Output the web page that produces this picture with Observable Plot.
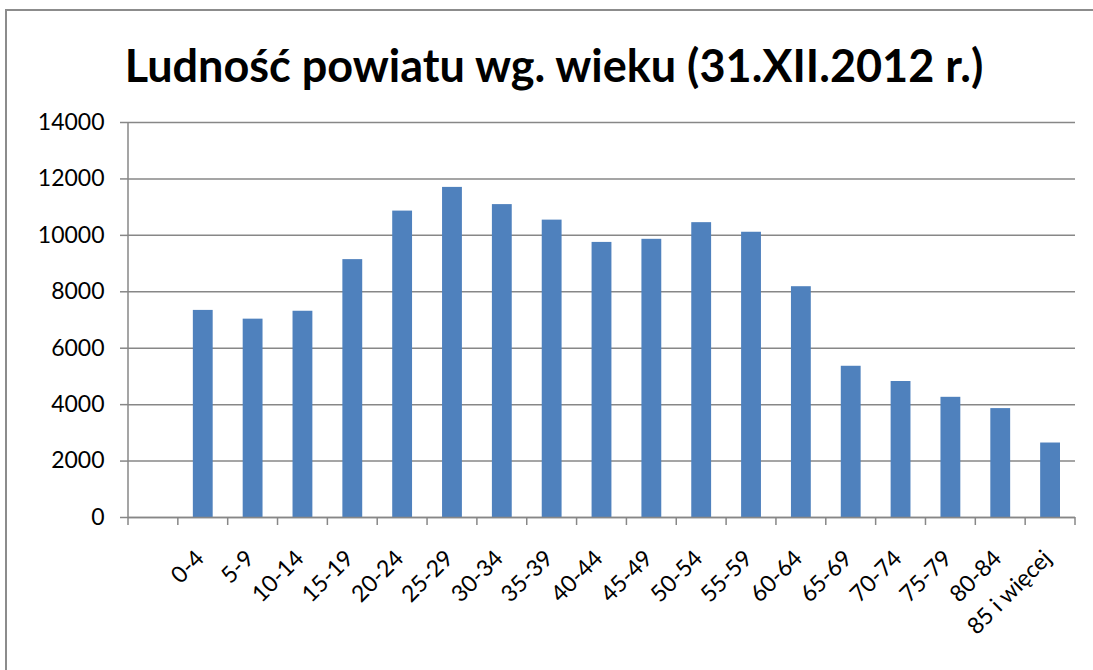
<!DOCTYPE html>
<html>
<head>
<meta charset="utf-8">
<script src="https://cdn.jsdelivr.net/npm/d3@7"></script>
<script src="https://cdn.jsdelivr.net/npm/@observablehq/plot@0.6"></script>
<style>
  html, body { margin: 0; padding: 0; background: #ffffff; }
  body { width: 1093px; height: 670px; overflow: hidden; position: relative; }
  #frame { position: absolute; left: 5px; top: 9px; width: 1300px; height: 900px;
           border-left: 2px solid #8c8c8c; border-top: 2px solid #8c8c8c; }
  #title { position: absolute; left: 0; width: 1108px; top: 43px; text-align: center;
           font-family: Lato, "Open Sans", sans-serif; font-weight: bold; font-size: 45px;
           line-height: 1; color: #000; white-space: nowrap; }
  #chart { position: absolute; left: 0; top: 100px; }
</style>
</head>
<body>
<div id="frame"></div>
<div id="title">Ludność powiatu wg. wieku (31.XII.2012 r.)</div>
<div id="chart"></div>
<script>
const ageGroups = ["0-4", "5-9", "10-14", "15-19", "20-24", "25-29", "30-34", "35-39", "40-44",
  "45-49", "50-54", "55-59", "60-64", "65-69", "70-74", "75-79", "80-84", "85 i więcej"];
const population = [7340, 7030, 7310, 9140, 10860, 11700, 11090, 10540, 9750,
  9860, 10450, 10110, 8180, 5360, 4820, 4260, 3860, 2640];
const yTicks = [0, 2000, 4000, 6000, 8000, 10000, 12000, 14000];
const blankSlot = " ";

const data = ageGroups.map((a, i) => ({age: a, pop: population[i]}));
const gray = "#878787";

function boundaryTicks(index, scales, values, dimensions) {
  const x = scales.x, y = scales.y;
  const dom = x.domain();
  const y0 = y(0), yTop = y(yTicks[yTicks.length - 1]);
  const g = d3.create("svg:g").attr("stroke", gray).attr("stroke-width", 1.5);
  const xs = dom.map(d => x(d));
  xs.push(x(dom[dom.length - 1]) + x.bandwidth());
  for (const px of xs) {
    g.append("line").attr("x1", px).attr("x2", px).attr("y1", y0).attr("y2", y0 + 8);
  }
  g.append("line").attr("x1", xs[0]).attr("x2", xs[0]).attr("y1", yTop).attr("y2", y0);
  return g.node();
}

const chart = Plot.plot({
  width: 1093,
  height: 570,
  marginLeft: 128,
  marginRight: 18,
  marginTop: 22,
  marginBottom: 153,
  style: {fontFamily: "Lato, 'Open Sans', sans-serif", fontSize: "23px", color: "#000", background: "transparent"},
  x: {domain: [blankSlot, ...ageGroups], padding: 0, round: false, label: null},
  y: {domain: [0, 14000], label: null},
  marks: [
    Plot.gridY(yTicks, {stroke: gray, strokeOpacity: 1, strokeWidth: 1.5}),
    Plot.barY(data, {x: "age", y: "pop", fill: "#4F81BD", insetLeft: 15, insetRight: 15}),
    Plot.ruleY([0], {stroke: gray, strokeWidth: 1.5}),
    Plot.axisY(yTicks, {tickSize: 8, tickPadding: 16, stroke: gray, strokeWidth: 1.5, fill: "#000",
      tickFormat: d3.format("d"), fontSize: 23, label: null}),
    Plot.axisX({tickRotate: -45, tickSize: 0, tickPadding: 37, dx: -3, fill: "#000", fontSize: 23, label: null}),
    boundaryTicks
  ]
});
document.getElementById("chart").appendChild(chart);
</script>
</body>
</html>
